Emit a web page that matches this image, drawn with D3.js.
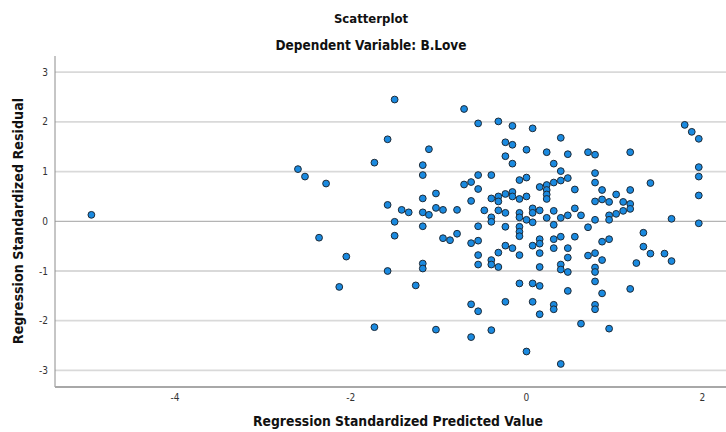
<!DOCTYPE html>
<html>
<head>
<meta charset="utf-8">
<script src="https://cdn.jsdelivr.net/npm/d3@7"></script>
<style>
  body { margin: 0; background: #fff; }
  text { font-family: "Liberation Sans Narrow", "DejaVu Sans Condensed", "Liberation Sans", sans-serif; }
</style>
</head>
<body>
<svg width="726" height="432"></svg>
<script>
// predicted value (x), residual (y)
predicted = [-4.95,-2.60,-2.52,-2.28,-2.36,-2.05,-2.13,-1.73,-1.73,-1.58,-1.58,-1.58,-1.50,-1.50,-1.50,-1.42,-1.34,-1.26,
  -1.18,-1.18,-1.18,-1.18,-1.18,-1.18,-1.18,-1.11,-1.11,-1.03,-1.03,-1.03,-0.95,-0.95,-0.87,-0.79,-0.79,
  -0.71,-0.71,-0.63,-0.63,-0.63,-0.63,-0.63,-0.55,-0.55,-0.55,-0.55,-0.55,-0.55,-0.55,-0.55,-0.48,
  -0.40,-0.40,-0.40,-0.40,-0.40,-0.40,-0.40,-0.32,-0.32,-0.32,-0.32,-0.32,-0.32,
  -0.24,-0.24,-0.24,-0.24,-0.24,-0.24,-0.24,-0.16,-0.16,-0.16,-0.16,-0.16,-0.16,
  -0.08,-0.08,-0.08,-0.08,-0.08,-0.08,-0.08,-0.08,-0.08,0.00,0.00,0.00,0.00,0.00,
  0.07,0.07,0.07,0.07,0.07,0.07,0.07,0.15,0.15,0.15,0.15,0.15,0.15,0.15,0.15,
  0.23,0.23,0.23,0.23,0.23,0.23,0.31,0.31,0.31,0.31,0.31,0.31,0.31,0.31,
  0.39,0.39,0.39,0.39,0.39,0.39,0.39,0.39,0.47,0.47,0.47,0.47,0.47,0.47,0.47,
  0.55,0.55,0.55,0.62,0.62,0.70,0.70,0.70,0.78,0.78,0.78,0.78,0.78,0.78,0.78,0.78,0.78,0.78,0.78,
  0.86,0.86,0.86,0.86,0.86,0.94,0.94,0.94,0.94,0.94,1.02,1.02,1.10,1.10,
  1.18,1.18,1.18,1.18,1.18,1.25,1.33,1.33,1.41,1.41,1.57,1.65,1.65,1.80,1.88,1.96,1.96,1.96,1.96,1.96]
residual = [0.13,1.05,0.90,0.76,-0.33,-0.71,-1.32,-2.13,1.18,1.65,0.33,-1.00,2.45,-0.01,-0.29,0.23,0.18,-1.29,
  1.13,0.93,0.46,0.18,-0.10,-0.85,-0.95,1.45,0.13,0.56,0.27,-2.18,0.23,-0.34,-0.38,0.23,-0.25,
  2.26,0.74,0.79,0.41,-0.44,-1.67,-2.33,1.97,0.93,0.65,-0.10,-0.39,-0.68,-0.87,-1.81,0.22,
  0.93,0.46,0.08,-0.01,-0.78,-0.87,-2.19,2.01,0.50,0.40,0.22,-0.63,-0.92,
  1.59,1.31,0.55,0.17,-0.11,-0.49,-1.62,1.92,1.54,1.16,0.59,0.50,-0.54,
  0.83,0.45,0.17,0.08,-0.11,-0.21,-0.30,-0.68,-1.25,1.44,0.88,0.50,0.03,-2.62,
  1.87,0.26,0.17,-0.02,-0.49,-1.25,-1.62,0.69,0.22,-0.36,-0.45,-0.64,-0.92,-1.30,-1.87,
  1.39,0.73,0.63,0.54,0.45,0.07,1.16,0.78,0.21,-0.07,-0.36,-0.54,-1.68,-1.77,
  1.68,1.01,0.82,0.07,-0.31,-0.87,-0.97,-2.87,1.35,0.87,0.12,-0.54,-0.73,-1.02,-1.40,
  0.64,0.26,-0.31,0.12,-2.06,1.39,-0.12,-0.69,1.34,0.97,0.78,0.40,0.03,-0.64,-0.93,-1.02,-1.21,-1.68,-1.77,
  0.63,0.44,-0.41,-0.78,-1.45,0.39,0.12,0.03,-0.36,-2.16,0.54,0.15,0.39,0.21,
  1.39,0.63,0.35,0.25,-1.36,-0.84,-0.23,-0.51,0.77,-0.65,-0.65,0.05,-0.80,1.94,1.80,1.66,1.09,0.90,0.52,-0.04]
xTicks = [-4, -2, 0, 2]
yTicks = [-3, -2, -1, 0, 1, 2, 3]
chartTitle = "Scatterplot"
chartSubtitle = "Dependent Variable: B.Love"
xLabel = "Regression Standardized Predicted Value"
yLabel = "Regression Standardized Residual"

svg = d3.select("svg")
plotLeft = 55
plotRight = 724
plotTop = 56
plotBottom = 387

x = d3.scaleLinear().domain([-5.364, 2.247]).range([plotLeft, plotRight])
y = d3.scaleLinear().domain([-3.334, 3.326]).range([plotBottom, plotTop])

// gridlines
svg.append("g")
    .selectAll("line")
    .data(yTicks)
    .join("line")
    .attr("x1", plotLeft)
    .attr("x2", 726)
    .attr("y1", d => y(d))
    .attr("y2", d => y(d))
    .attr("stroke", d => d === 0 ? "#b4b4b4" : "#d9d9d9")
    .attr("stroke-width", d => d === 0 ? 1.2 : 1.8)

// frame
svg.append("line")
    .attr("x1", plotLeft).attr("x2", plotLeft)
    .attr("y1", plotTop).attr("y2", plotBottom)
    .attr("stroke", "#8c8c8c")
    .attr("stroke-width", 1)
svg.append("line")
    .attr("x1", plotLeft).attr("x2", 726)
    .attr("y1", plotBottom).attr("y2", plotBottom)
    .attr("stroke", "#a8a8a8")
    .attr("stroke-width", 1.8)

// y tick labels
svg.append("g")
    .selectAll("text")
    .data(yTicks)
    .join("text")
    .attr("x", 48)
    .attr("y", d => y(d))
    .attr("dy", "0.35em")
    .attr("text-anchor", "end")
    .attr("font-size", 10)
    .attr("fill", "#333")
    .text(d => d)

// x tick labels
svg.append("g")
    .selectAll("text")
    .data(xTicks)
    .join("text")
    .attr("x", d => x(d))
    .attr("y", 401)
    .attr("text-anchor", "middle")
    .attr("font-size", 10)
    .attr("fill", "#333")
    .text(d => d)

// points
svg.append("g")
    .selectAll("circle")
    .data(predicted)
    .join("circle")
    .attr("cx", d => x(d))
    .attr("cy", (d, i) => y(residual[i]))
    .attr("r", 3.4)
    .attr("fill", "#1a8ae0")
    .attr("stroke", "#1e2a36")
    .attr("stroke-width", 1)

// titles
svg.append("text")
    .attr("x", 371).attr("y", 23)
    .attr("text-anchor", "middle")
    .attr("font-size", 13)
    .attr("font-weight", "bold")
    .attr("fill", "#111")
    .text(chartTitle)
svg.append("text")
    .attr("x", 371).attr("y", 50)
    .attr("text-anchor", "middle")
    .attr("font-size", 13.5)
    .attr("font-weight", "bold")
    .attr("fill", "#111")
    .text(chartSubtitle)
svg.append("text")
    .attr("x", 398).attr("y", 426)
    .attr("text-anchor", "middle")
    .attr("font-size", 13.8)
    .attr("font-weight", "bold")
    .attr("fill", "#111")
    .text(xLabel)
svg.append("text")
    .attr("transform", "translate(23,221) rotate(-90)")
    .attr("text-anchor", "middle")
    .attr("font-size", 14.2)
    .attr("font-weight", "bold")
    .attr("fill", "#111")
    .text(yLabel)
</script>
</body>
</html>
